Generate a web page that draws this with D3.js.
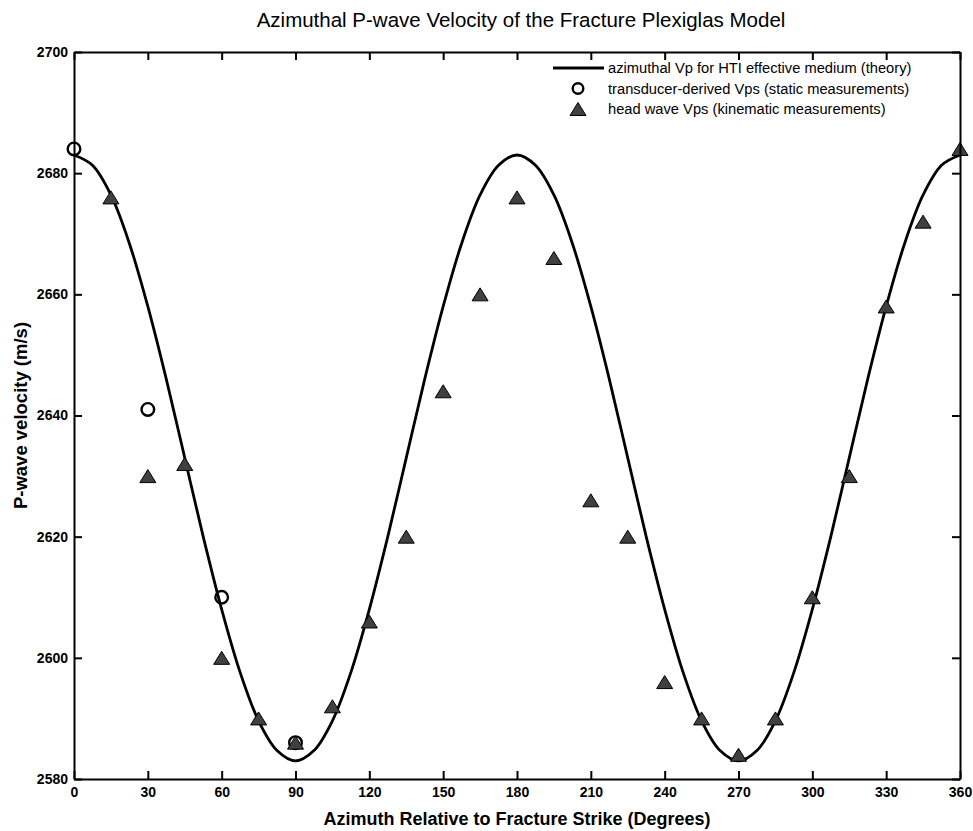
<!DOCTYPE html>
<html>
<head>
<meta charset="utf-8">
<script src="https://cdn.jsdelivr.net/npm/d3@7"></script>
<style>
  html, body { margin: 0; padding: 0; background: #ffffff; }
  svg { display: block; }
  text { font-family: "Liberation Sans", Arial, sans-serif; }
</style>
</head>
<body>
<svg id="chart" width="973" height="831"></svg>
<script>
// Theoretical azimuthal Vp (HTI effective medium), sampled every 7.5 degrees
const theoryAzimuth = [
  0, 7.5, 15, 22.5, 30, 37.5, 45, 52.5, 60, 67.5, 75, 82.5, 90,
  97.5, 105, 112.5, 120, 127.5, 135, 142.5, 150, 157.5, 165, 172.5, 180,
  187.5, 195, 202.5, 210, 217.5, 225, 232.5, 240, 247.5, 255, 262.5, 270,
  277.5, 285, 292.5, 300, 307.5, 315, 322.5, 330, 337.5, 345, 352.5, 360
];
const theoryVp = [
  2683.0, 2681.3, 2676.4, 2668.4, 2658.0, 2646.0, 2633.0, 2620.0, 2608.0, 2597.6, 2589.6, 2584.7, 2583.0,
  2584.7, 2589.6, 2597.6, 2608.0, 2620.0, 2633.0, 2646.0, 2658.0, 2668.4, 2676.4, 2681.3, 2683.0,
  2681.3, 2676.4, 2668.4, 2658.0, 2646.0, 2633.0, 2620.0, 2608.0, 2597.6, 2589.6, 2584.7, 2583.0,
  2584.7, 2589.6, 2597.6, 2608.0, 2620.0, 2633.0, 2646.0, 2658.0, 2668.4, 2676.4, 2681.3, 2683.0
];

// Transducer-derived Vps (static measurements)
const staticAzimuth = [0, 30, 60, 90];
const staticVp = [2684, 2641, 2610, 2586];

// Head wave Vps (kinematic measurements)
const headAzimuth = [15, 30, 45, 60, 75, 90, 105, 120, 135, 150, 165, 180, 195, 210,
  225, 240, 255, 270, 285, 300, 315, 330, 345, 360];
const headVp = [2676, 2630, 2632, 2600, 2590, 2586, 2592, 2606, 2620, 2644, 2660, 2676, 2666, 2626,
  2620, 2596, 2590, 2584, 2590, 2610, 2630, 2658, 2672, 2684];

const xTicks = [0, 30, 60, 90, 120, 150, 180, 210, 240, 270, 300, 330, 360];
const yTicks = [2580, 2600, 2620, 2640, 2660, 2680, 2700];

const legendLabels = [
  "azimuthal Vp for HTI effective medium (theory)",
  "transducer-derived Vps (static measurements)",
  "head wave Vps (kinematic measurements)"
];

const titleText = "Azimuthal P-wave Velocity of the Fracture Plexiglas Model";
const xLabelText = "Azimuth Relative to Fracture Strike (Degrees)";
const yLabelText = "P-wave velocity (m/s)";

// Layout
const plot = { left: 74, right: 960, top: 52, bottom: 779 };
const svg = d3.select("#chart");

const x = d3.scaleLinear().domain([0, 360]).range([plot.left, plot.right]);
const y = d3.scaleLinear().domain([2580, 2700]).range([plot.bottom, plot.top]);

// Theory curve
const line = d3.line()
  .x(d => x(d[0]))
  .y(d => y(d[1]))
  .curve(d3.curveCatmullRom);

svg.append("path")
  .datum(theoryAzimuth.map((a, i) => [a, theoryVp[i]]))
  .attr("d", line)
  .attr("fill", "none")
  .attr("stroke", "#000")
  .attr("stroke-width", 2.8)
  .attr("stroke-linejoin", "round");

// Static measurement circles
const circleR = 6.3;
svg.append("g").selectAll("circle")
  .data(staticAzimuth.map((a, i) => [a, staticVp[i]]))
  .join("circle")
  .attr("cx", d => x(d[0]))
  .attr("cy", d => y(d[1]))
  .attr("r", circleR)
  .attr("fill", "none")
  .attr("stroke", "#000")
  .attr("stroke-width", 2.4);

// Head wave triangles
function triPath(cx, cy) {
  const w = 16, h = 13;
  return `M${cx},${cy - h / 2}L${cx + w / 2},${cy + h / 2}L${cx - w / 2},${cy + h / 2}Z`;
}
svg.append("g").selectAll("path")
  .data(headAzimuth.map((a, i) => [a, headVp[i]]))
  .join("path")
  .attr("d", d => triPath(x(d[0]), y(d[1])))
  .attr("fill", "#404040")
  .attr("stroke", "#000")
  .attr("stroke-width", 1);

// Axes with inward ticks on all four sides
const tickLen = 8;
const axisFont = "bold 14px 'Liberation Sans', Arial, sans-serif";
const fmt = d3.format("d");

const gx = svg.append("g")
  .attr("transform", `translate(0,${plot.bottom})`)
  .call(d3.axisBottom(x).tickValues(xTicks).tickFormat(fmt).tickSizeInner(-tickLen).tickSizeOuter(0).tickPadding(7));
const gxTop = svg.append("g")
  .attr("transform", `translate(0,${plot.top})`)
  .call(d3.axisTop(x).tickValues(xTicks).tickSizeInner(-tickLen).tickSizeOuter(0).tickFormat(""));
const gy = svg.append("g")
  .attr("transform", `translate(${plot.left},0)`)
  .call(d3.axisLeft(y).tickValues(yTicks).tickFormat(fmt).tickSizeInner(-tickLen).tickSizeOuter(0).tickPadding(6));
const gyRight = svg.append("g")
  .attr("transform", `translate(${plot.right},0)`)
  .call(d3.axisRight(y).tickValues(yTicks).tickSizeInner(-tickLen).tickSizeOuter(0).tickFormat(""));

[gx, gxTop, gy, gyRight].forEach(g => {
  g.select(".domain").attr("stroke", "#000").attr("stroke-width", 2);
  g.selectAll(".tick line").attr("stroke", "#000").attr("stroke-width", 2);
  g.selectAll(".tick text")
    .attr("fill", "#000")
    .style("font", axisFont);
});
gx.selectAll(".tick text").attr("dy", "0.75em");

// Title
svg.append("text")
  .attr("x", (plot.left + plot.right) / 2 + 4)
  .attr("y", 27)
  .attr("text-anchor", "middle")
  .style("font-size", "20.5px")
  .attr("fill", "#000")
  .text(titleText);

// Axis labels
svg.append("text")
  .attr("x", (plot.left + plot.right) / 2)
  .attr("y", 825)
  .attr("text-anchor", "middle")
  .style("font-size", "18px")
  .style("font-weight", "bold")
  .attr("fill", "#000")
  .text(xLabelText);

svg.append("text")
  .attr("transform", `translate(27,${(plot.top + plot.bottom) / 2}) rotate(-90)`)
  .attr("text-anchor", "middle")
  .style("font-size", "18.5px")
  .style("font-weight", "bold")
  .attr("fill", "#000")
  .text(yLabelText);

// Legend
const legend = svg.append("g").attr("transform", "translate(553,68)");
const rowGap = 20.5;
const textX = 55;
const markX = 25;

legend.append("line")
  .attr("x1", 0).attr("x2", 51)
  .attr("y1", 0).attr("y2", 0)
  .attr("stroke", "#000").attr("stroke-width", 2.8);
legend.append("circle")
  .attr("cx", markX).attr("cy", rowGap)
  .attr("r", 5.3)
  .attr("fill", "none").attr("stroke", "#000").attr("stroke-width", 2.4);
legend.append("path")
  .attr("d", triPath(markX, rowGap * 2))
  .attr("fill", "#404040").attr("stroke", "#000").attr("stroke-width", 1);

legend.selectAll("text.lg")
  .data(legendLabels)
  .join("text")
  .attr("class", "lg")
  .attr("x", textX)
  .attr("y", (d, i) => i * rowGap)
  .attr("dy", "0.35em")
  .style("font-size", "14.7px")
  .attr("fill", "#000")
  .text(d => d);
</script>
</body>
</html>
